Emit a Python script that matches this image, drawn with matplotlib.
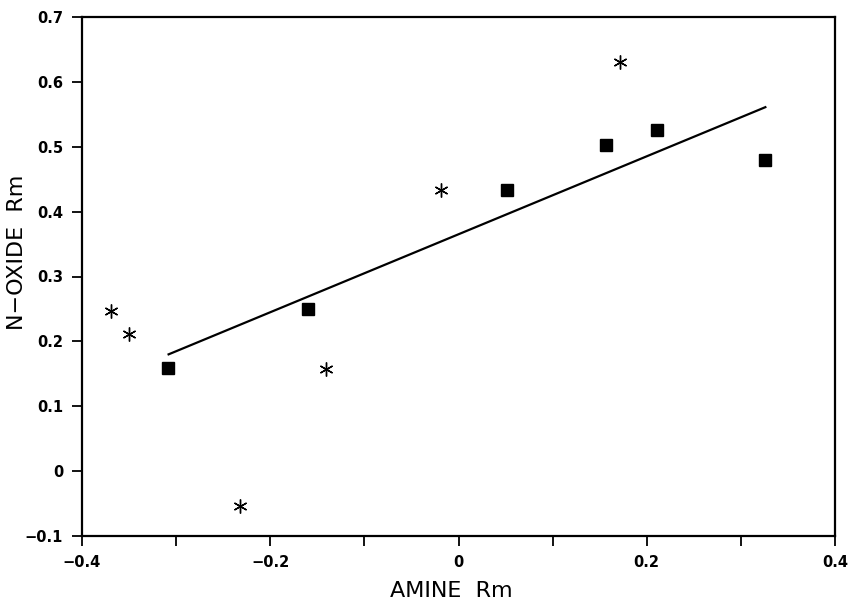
import matplotlib
matplotlib.use("Agg")
import matplotlib.pyplot as plt

# Data
square_x = [-0.309, -0.160, 0.051, 0.157, 0.211, 0.326]
square_y = [0.159, 0.250, 0.433, 0.502, 0.526, 0.479]
star_x = [-0.369, -0.350, -0.232, -0.141, -0.019, 0.172]
star_y = [0.247, 0.212, -0.053, 0.157, 0.433, 0.630]
fit_x = [-0.308, 0.326]
fit_y = [0.180, 0.561]

x_ticks = [-0.4, -0.3, -0.2, -0.1, 0.0, 0.1, 0.2, 0.3, 0.4]
x_ticklabels = ["\u22120.4", "", "\u22120.2", "", "0", "", "0.2", "", "0.4"]
y_ticks = [-0.1, 0.0, 0.1, 0.2, 0.3, 0.4, 0.5, 0.6, 0.7]
y_ticklabels = ["\u22120.1", "0", "0.1", "0.2", "0.3", "0.4", "0.5", "0.6", "0.7"]

plt.rcParams['font.family'] = ['DejaVu Sans']

fig = plt.figure(figsize=(8.48, 6.01), dpi=100)
ax = fig.add_axes([82/848, 1 - 536/601, (835-82)/848, (536-17)/601])

ax.plot(fit_x, fit_y, color='black', lw=1.6)
ax.plot(square_x, square_y, ls='none', marker='s', ms=8, color='black')
ax.plot(star_x, star_y, ls='none', marker=(6, 2, 0), ms=10, mew=1.0, color='black')

ax.set_xlim(-0.4, 0.4)
ax.set_ylim(-0.1, 0.7)
ax.set_xticks(x_ticks)
ax.set_xticklabels(x_ticklabels, fontsize=10.5, fontweight='bold')
ax.set_yticks(y_ticks)
ax.set_yticklabels(y_ticklabels, fontsize=10.5, fontweight='bold')
ax.tick_params(direction='out', length=7.5, width=1.3, pad=6)

for s in ax.spines.values():
    s.set_linewidth(1.6)

ax.set_xlabel("AMINE  Rm", fontsize=16)
ax.set_ylabel("N\u2212OXIDE  Rm", fontsize=16)
ax.xaxis.set_label_coords(0.49, -0.087)
ax.yaxis.set_label_coords(-0.073, 0.547)

fig.savefig("out.png", dpi=100)
